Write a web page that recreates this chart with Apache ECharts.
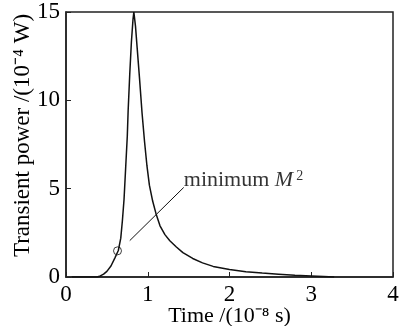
<!DOCTYPE html>
<html><head><meta charset="utf-8">
<script src="https://cdn.jsdelivr.net/npm/echarts@6/dist/echarts.min.js"></script>
<style>html,body{margin:0;padding:0;background:#fff}#c{width:405px;height:326px}</style>
</head><body><div id="c"></div>
<script>
// Transient power pulse (time in 1e-8 s, power in 1e-4 W)
const timeVals  = [0.07,0.38,0.42,0.46,0.50,0.55,0.60,0.64,0.67,0.69,0.71,0.73,0.75,0.76,0.78,0.80,0.82,0.83,0.85,0.87,0.90,0.93,0.96,0.99,1.02,1.06,1.10,1.15,1.21,1.27,1.35,1.43,1.55,1.67,1.80,2.00,2.20,2.40,2.60,2.80,3.00,3.15,3.28];
const powerVals = [0,0,0.06,0.16,0.32,0.62,1.10,1.50,2.20,3.20,4.40,6.20,8.00,9.40,11.5,13.3,14.6,15.0,14.2,13.0,11.2,9.3,7.7,6.3,5.2,4.3,3.6,2.9,2.4,2.05,1.7,1.38,1.05,0.80,0.60,0.42,0.30,0.22,0.16,0.10,0.06,0.03,0];
const markerPoint = [0.63, 1.48];
const annotLine = [[0.78, 2.06], [1.44, 5.07]];
const xTicks = [0, 1, 2, 3, 4];
const yTicks = [0, 5, 10, 15];

const FONT = '"Liberation Serif", "Times New Roman", serif';
const curve = timeVals.map((t, i) => [t, powerVals[i]]);

const chart = echarts.init(document.getElementById('c'), null, {renderer: 'canvas'});
chart.setOption({
  animation: false,
  backgroundColor: '#fff',
  textStyle: {fontFamily: FONT},
  grid: {left: 66, right: 12, top: 12, bottom: 49, containLabel: false, outerBoundsMode: 'none',
         show: true, borderColor: '#222', borderWidth: 1.5, backgroundColor: 'transparent'},
  xAxis: {
    type: 'value', min: xTicks[0], max: xTicks[xTicks.length - 1], interval: 1,
    name: 'Time /(10\u207B\u2078 s)', nameLocation: 'middle', nameGap: 28, nameMoveOverlap: false,
    nameTextStyle: {fontFamily: FONT, fontSize: 22, color: '#000'},
    axisLine: {show: true, lineStyle: {color: '#222', width: 1.5}},
    axisTick: {show: true, inside: true, length: 5, lineStyle: {color: '#222'}},
    axisLabel: {fontFamily: FONT, fontSize: 23, color: '#000', margin: 6},
    splitLine: {show: false}
  },
  yAxis: {
    type: 'value', min: yTicks[0], max: yTicks[yTicks.length - 1], interval: 5,
    name: 'Transient power /(10\u207B\u2074 W)', nameLocation: 'middle', nameGap: 32, nameMoveOverlap: false,
    nameTextStyle: {fontFamily: FONT, fontSize: 23, color: '#000', padding: [0, 0, 0, 18]},
    axisLine: {show: true, lineStyle: {color: '#222', width: 1.5}},
    axisTick: {show: true, inside: true, length: 5, lineStyle: {color: '#222'}},
    axisLabel: {fontFamily: FONT, fontSize: 23, color: '#000', margin: 6},
    splitLine: {show: false}
  },
  series: [
    {type: 'line', data: curve, symbol: 'none', smooth: false,
     lineStyle: {color: '#111', width: 1.5}},
    {type: 'line', data: annotLine, symbol: 'none', lineStyle: {color: '#111', width: 1}},
    {type: 'scatter', data: [annotLine[1]], symbolSize: 0.1,
     itemStyle: {color: 'rgba(0,0,0,0)'},
     label: {show: true, position: 'right', distance: 0, offset: [0, -7],
       formatter: 'minimum {it|M}{sup|2}',
       fontFamily: FONT, fontSize: 22, color: '#000',
       rich: {it: {fontFamily: FONT, fontSize: 22, fontStyle: 'italic', color: '#000'},
              sup: {fontFamily: FONT, fontSize: 14, color: '#000', verticalAlign: 'top', padding: [0,0,3,3]}}}},
    {type: 'scatter', data: [markerPoint], symbol: 'circle', symbolSize: 8,
     itemStyle: {color: 'rgba(255,255,255,0)', borderColor: '#111', borderWidth: 1}}
  ]
});
</script></body></html>
